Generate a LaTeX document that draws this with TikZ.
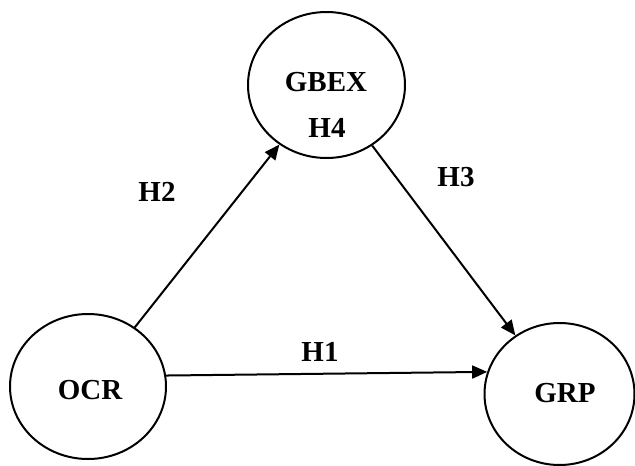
\documentclass[tikz,border=0pt]{standalone}
\usepackage{fontspec}
\setmainfont{Liberation Serif}
\usetikzlibrary{shapes.geometric,arrows.meta}
\begin{document}
\begin{tikzpicture}[x=1pt,y=-1pt,
  circ/.style={draw, ellipse, line width=2pt, inner sep=0pt},
  lbl/.style={inner sep=0pt, font=\fontsize{29}{34}\selectfont\bfseries},
  conn/.style={line width=2pt, -{Triangle[length=15pt,width=13pt]}}]
\useasboundingbox (0,0) rectangle (635,466);
\node[circ, minimum width=157pt, minimum height=146pt] (gbex) at (326.5,85) {};
\node[circ, minimum width=156pt, minimum height=145pt] (ocr) at (88,386.5) {};
\node[circ, minimum width=150pt, minimum height=142pt] (grp) at (559.5,394) {};
\node[lbl] (tgbex) at (326,82) {GBEX};
\node[lbl] (th4) at (327,128) {H4};
\node[lbl] (tocr) at (90,390) {OCR};
\node[lbl] (tgrp) at (565,393) {GRP};
\node[lbl] (h2) at (157,192) {H2};
\node[lbl] (h3) at (456,177) {H3};
\node[lbl] (h1) at (320,352) {H1};
\draw[conn] (ocr) -- (gbex);
\draw[conn] (gbex) -- (grp);
\draw[conn] (ocr.8) -- (grp.163);
\end{tikzpicture}
\end{document}
